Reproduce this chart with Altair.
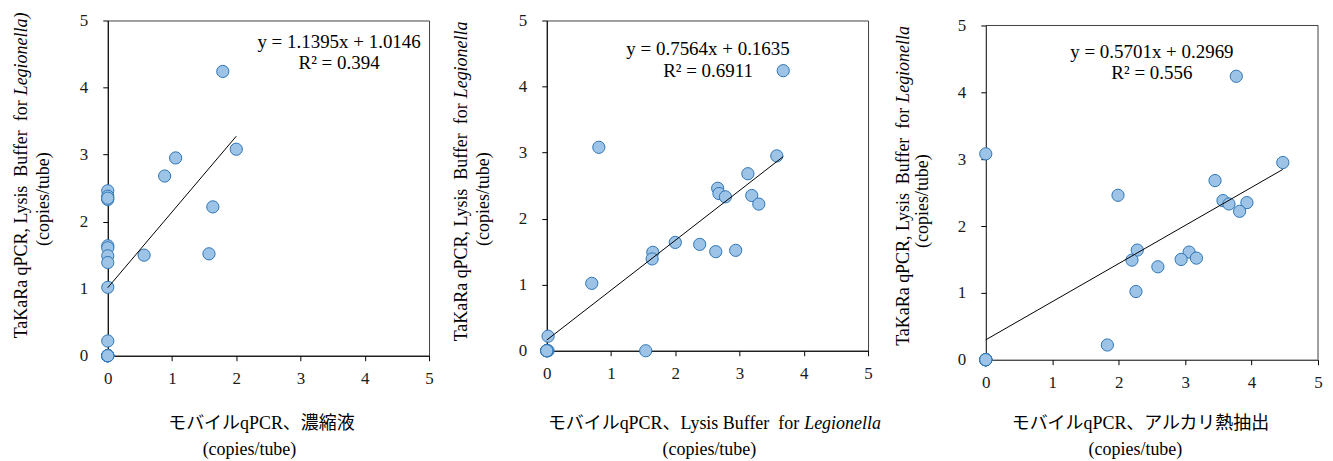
import altair as alt
import pandas as pd

# ---------------- data ----------------
# TaKaRa qPCR, Lysis Buffer for Legionella (copies/tube) -- shared y for the 24 samples
takara_y = [4.24, 3.08, 2.95, 2.68, 2.46, 2.38, 2.33, 2.35, 2.22, 1.64, 1.61, 1.50,
            1.52, 1.49, 1.39, 1.02, 0.22, 0, 0, 0, 0, 0, 0, 0]
# モバイルqPCR、濃縮液
mobile_conc_x = [1.79, 2.00, 1.056, 0.885, 0, 0, 0, 0, 1.635, 0, 0, 0.565,
                 1.575, 0, 0, 0, 0, 0, 0, 0, 0, 0, 0, 0]
# モバイルqPCR、Lysis Buffer for Legionella
mobile_lysis_x = [3.68, 0.81, 3.58, 3.13, 2.66, 2.68, 2.78, 3.19, 3.30, 2.00, 2.38, 2.63,
                  2.94, 1.65, 1.64, 0.70, 0.02, 0.02, 1.54, 0, 0, 0, 0, 0]
# モバイルqPCR、アルカリ熱抽出
mobile_alkali_x = [3.77, 0.0, 4.47, 3.45, 1.99, 3.57, 3.66, 3.93, 3.82, 2.28, 3.06, 2.94,
                   3.17, 2.20, 2.59, 2.26, 1.83, 0, 0, 0, 0, 0, 0, 0]

eq_texts = [("y = 1.1395x + 1.0146", "R² = 0.394"),
            ("y = 0.7564x + 0.1635", "R² = 0.6911"),
            ("y = 0.5701x + 0.2969", "R² = 0.556")]
tick_values = [0, 1, 2, 3, 4, 5]

FONT = "Liberation Serif, Noto Sans CJK JP"
SERIF = "Liberation Serif, serif"
FILL = "#9DC3E6"
EDGE = "#2E75B6"
FRAME = "#404040"
LABEL = "#1a1a1a"

X_AXIS = alt.Axis(values=tick_values, title=None, tickSize=5, labelPadding=10,
                  labelFlush=False, format="d", labelFont=SERIF, labelFontSize=17,
                  labelColor=LABEL)
Y_AXIS = alt.Axis(values=tick_values, title=None, tickSize=5, labelPadding=15, format="d",
                  labelFont=SERIF, labelFontSize=17, labelColor=LABEL)


def txt(text, x, y, size, angle=0, align="center", baseline="middle", style="normal"):
    return alt.Chart(pd.DataFrame({"t": [text]})).mark_text(
        align=align, baseline=baseline, angle=angle, font=FONT, fontSize=size,
        fontStyle=style, color="black"
    ).encode(x=alt.value(x), y=alt.value(y), text="t:N")


def eq(text, xv, yv):
    return alt.Chart(pd.DataFrame({"x": [xv], "y": [yv], "t": [text]})).mark_text(
        align="center", baseline="middle", font=FONT, fontSize=19, color="black"
    ).encode(x=alt.X("x:Q", axis=X_AXIS), y=alt.Y("y:Q", axis=Y_AXIS), text="t:N")


def panel(xs, w, h, eqs, eq_pos, ytitle, xtitle, y_range=None, frame_rules=False):
    df = pd.DataFrame({"x": xs, "y": takara_y})
    yscale = alt.Scale(domain=[0, 5], nice=False)
    if y_range is not None:
        yscale = alt.Scale(domain=[0, 5], nice=False, range=y_range)
    base = alt.Chart(df).encode(
        x=alt.X("x:Q", scale=alt.Scale(domain=[0, 5], nice=False), axis=X_AXIS),
        y=alt.Y("y:Q", scale=yscale, axis=Y_AXIS),
    )
    pts = base.mark_circle(size=150, fill=FILL, stroke=EDGE, strokeWidth=1, opacity=1)
    reg = base.transform_regression("x", "y").mark_line(color="black", strokeWidth=1)
    layers = [pts, reg,
              eq(eqs[0], eq_pos[0], eq_pos[1]),
              eq(eqs[1], eq_pos[0], eq_pos[2])]
    layers += ytitle
    layers += xtitle
    if frame_rules:
        one = pd.DataFrame({"a": [0]})
        layers.append(alt.Chart(one).mark_rule(color=FRAME, strokeWidth=1).encode(
            x=alt.value(0), x2=alt.value(w), y=alt.value(y_range[1])))
        layers.append(alt.Chart(one).mark_rule(color=FRAME, strokeWidth=1).encode(
            x=alt.value(w), y=alt.value(y_range[1]), y2=alt.value(y_range[0])))
    ch = alt.layer(*layers).properties(width=w, height=h)
    if frame_rules:
        ch = ch.properties(view=alt.ViewBackground(stroke=None))
    return ch


YT = 18  # y title font size
XT = 18  # x title font size
GAP = 5  # width of the space before the italic word
Y1 = "TaKaRa qPCR, Lysis\u00a0 Buffer\u00a0 for"
Y2 = "(copies/tube)"


def ytitle(join, italic, x1, x2, y2c):
    return [txt(Y1, x1, join, YT, angle=270, align="right", baseline="alphabetic"),
            txt(italic, x1, join - GAP, YT, angle=270, align="left", baseline="alphabetic",
                style="italic"),
            txt(Y2, x2, y2c, YT, angle=270, align="center", baseline="alphabetic")]


p1 = panel(mobile_conc_x, 322, 336, eq_texts[0], (3.6, 4.673, 4.36),
           ytitle(80, "Legionella)", -81, -59, 179),
           [txt("モバイルqPCR、濃縮液", 154, 404, XT),
            txt("(copies/tube)", 142, 430, XT)])

p2 = panel(mobile_lysis_x, 322, 331, eq_texts[1], (2.51, 4.57, 4.24),
           ytitle(83, "Legionella", -80, -58, 179),
           [txt("モバイルqPCR、Lysis Buffer\u00a0 for", 253, 404, XT, align="right"),
            txt("Legionella", 253 + GAP, 404, XT, align="left", style="italic"),
            txt("(copies/tube)", 163, 430, XT)])

p3 = panel(mobile_alkali_x, 333, 340, eq_texts[2], (2.5, 4.61, 4.29),
           ytitle(87.5, "Legionella", -77, -58, 181),
           [txt("モバイルqPCR、アルカリ熱抽出", 155, 404, XT),
            txt("(copies/tube)", 150, 430, XT)],
           y_range=[340, 5], frame_rules=True)

chart = alt.hconcat(p1, p2, p3, spacing=118, bounds="flush").properties(
    padding={"left": 4, "top": 2, "right": 2, "bottom": 2}
).configure(font=SERIF).configure_view(stroke=FRAME, strokeWidth=1).configure_axis(
    labelFont=SERIF, labelFontSize=17, labelColor=LABEL,
    domainColor="#000000", tickColor="#000000", grid=False
)

chart.save("out.html", embed_options={"renderer": "svg", "actions": False})
